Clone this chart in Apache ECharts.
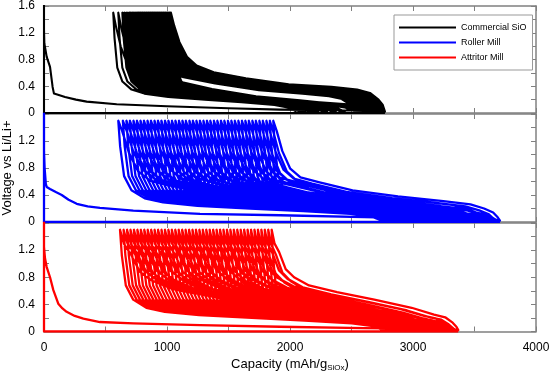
<!DOCTYPE html>
<html>
<head>
<meta charset="utf-8">
<script src="https://cdn.jsdelivr.net/npm/echarts@6/dist/echarts.min.js"></script>
<style>
  html, body { margin: 0; padding: 0; background: #fff; }
  #chart { width: 550px; height: 371px; }
</style>
</head>
<body>
<div id="chart"></div>
<script>
// first lithiation of each material: [capacity, voltage]
var blkFirst = [[0, 2.5], [0, 1.25], [3, 1.04], [22, 0.84], [49, 0.69], [70, 0.39], [81, 0.29], [120, 0.27], [171, 0.24], [260, 0.2], [347, 0.17], [591, 0.13], [1000, 0.1], [1500, 0.07], [1919, 0.05], [2400, 0.04], [2700, 0.03], [2772, 0.02]];
var bluFirst = [[0, 2.5], [0, 1.05], [5, 0.8], [15, 0.56], [22, 0.52], [49, 0.49], [100, 0.44], [144, 0.4], [200, 0.33], [266, 0.27], [355, 0.23], [455, 0.21], [726, 0.17], [1268, 0.12], [1919, 0.1], [2700, 0.07], [3400, 0.05], [3650, 0.03], [3707, 0.02]];
var redFirst = [[0, 2.5], [0, 1.25], [8, 1.08], [22, 0.95], [49, 0.8], [76, 0.61], [116, 0.41], [150, 0.34], [184, 0.29], [250, 0.23], [320, 0.19], [455, 0.14], [726, 0.12], [1268, 0.095], [1919, 0.07], [2600, 0.05], [3200, 0.04], [3368, 0.02]];

// cycle profiles, position as fraction of the loop width
var lithU = [0, 0.007, 0.022, 0.05, 0.1, 0.17, 0.3, 0.5, 0.7, 0.88, 0.96, 1];
var lithV = [1.5, 1.12, 0.68, 0.47, 0.35, 0.29, 0.24, 0.2, 0.16, 0.12, 0.08, 0.02];
var delU = [0, 0.015, 0.04, 0.075, 0.12, 0.2, 0.35, 0.55, 0.75, 0.87, 0.93, 0.97, 0.99, 1];
var delDrop = [0, 0.1, 0.3, 0.5, 0.6, 0.7, 0.8, 0.9, 1, 1, 0.9, 0.7, 0.4, 0];
var blkDelV = [1.5, 1.31, 1.06, 0.84, 0.71, 0.61, 0.52, 0.43, 0.39, 0.35, 0.3, 0.2, 0.12, 0.02];
var bluDelV = [1.5, 1.35, 1.05, 0.79, 0.66, 0.59, 0.47, 0.38, 0.31, 0.26, 0.2, 0.14, 0.07, 0.02];
var redDelV = [1.5, 1.3, 1.17, 0.92, 0.8, 0.68, 0.58, 0.47, 0.35, 0.25, 0.21, 0.13, 0.07, 0.02];

// per cycle: capacity at the 1.5 V turn, capacity at the end of lithiation, voltage drop of delithiation
var blkPeak = [1032, 1024, 1016, 1007, 999, 990, 982, 973, 965, 956, 948, 939, 931, 922, 914, 905, 897, 888, 880, 871, 863, 854, 846, 837, 829, 820, 812, 803, 795, 786, 778, 769, 761, 752, 741, 731, 722, 713, 702, 694, 681, 667, 652, 637, 604, 563];
var blkEnd = [2760, 2753, 2745, 2739, 2731, 2724, 2717, 2709, 2703, 2695, 2688, 2681, 2673, 2667, 2659, 2652, 2645, 2637, 2631, 2623, 2616, 2609, 2601, 2595, 2587, 2580, 2574, 2567, 2561, 2554, 2548, 2541, 2535, 2528, 2445, 2410, 2372, 2338, 2301, 2266, 2230, 2193, 2160, 2124, 2088, 2052];
var blkDrop = [0, 0.02, 0.05, 0.01, 0.04, 0.07, 0.02, 0.05, 0.08, 0.03, 0.06, 0.04, 0.09, 0.02, 0.05, 0.08, 0.03, 0.06, 0.04, 0.09, 0.05, 0.03, 0.08, 0.04, 0.06, 0.1, 0.05, 0.03, 0.08, 0.06, 0.04, 0.1, 0.05, 0.09, 0.2, 0.22, 0.19, 0.23, 0.21, 0.24, 0.2, 0.22, 0.25, 0.21, 0.23, 0.22];

var bluPeak = [1864, 1836, 1808, 1779, 1751, 1722, 1694, 1665, 1637, 1609, 1580, 1551, 1523, 1495, 1466, 1438, 1409, 1381, 1352, 1324, 1296, 1267, 1239, 1210, 1182, 1153, 1125, 1097, 1068, 1040, 1011, 983, 954, 926, 898, 869, 841, 812, 784, 755, 727, 698, 670, 641, 604];
var bluEnd = [3690, 3668, 3646, 3622, 3600, 3579, 3555, 3533, 3511, 3488, 3466, 3445, 3421, 3399, 3378, 3355, 3333, 3312, 3289, 3267, 3246, 3223, 3201, 3180, 3157, 3135, 3114, 3091, 3069, 3048, 3025, 3003, 2982, 2959, 2937, 2916, 2893, 2871, 2850, 2827, 2805, 2790, 2775, 2762, 2750];
var bluDrop = [0, 0.09, 0.03, 0.13, 0.06, 0.11, 0.01, 0.08, 0.14, 0.04, 0.1, 0.02, 0.12, 0.07, 0.13, 0.03, 0.09, 0.05, 0.14, 0.02, 0.11, 0.06, 0.12, 0.01, 0.08, 0.13, 0.04, 0.1, 0.06, 0.14, 0.03, 0.09, 0.12, 0.05, 0.11, 0.02, 0.13, 0.07, 0.1, 0.04, 0.12, 0.06, 0.09, 0.03, 0.08];

var redPeak = [1851, 1823, 1795, 1767, 1739, 1711, 1683, 1655, 1627, 1599, 1571, 1543, 1515, 1487, 1459, 1431, 1403, 1375, 1347, 1319, 1291, 1263, 1235, 1207, 1179, 1151, 1123, 1095, 1067, 1039, 1011, 983, 955, 927, 899, 871, 843, 815, 787, 759, 731, 703, 675, 647, 618];
var redEnd = [3352, 3338, 3325, 3310, 3296, 3283, 3268, 3254, 3241, 3226, 3212, 3199, 3184, 3170, 3157, 3142, 3128, 3115, 3100, 3086, 3073, 3058, 3044, 3031, 3016, 3002, 2989, 2974, 2960, 2947, 2932, 2918, 2905, 2890, 2876, 2863, 2848, 2834, 2821, 2806, 2792, 2784, 2776, 2768, 2760];
var redDrop = [0, 0.1, 0.04, 0.13, 0.07, 0.02, 0.12, 0.05, 0.14, 0.08, 0.03, 0.11, 0.06, 0.13, 0.01, 0.09, 0.12, 0.04, 0.14, 0.07, 0.1, 0.02, 0.12, 0.06, 0.13, 0.03, 0.09, 0.11, 0.05, 0.14, 0.02, 0.08, 0.12, 0.06, 0.1, 0.03, 0.13, 0.07, 0.11, 0.04, 0.12, 0.05, 0.09, 0.02, 0.08];

var names = ['Commercial SiO', 'Roller Mill', 'Attritor Mill'];
var colors = ['#000000', '#0000ff', '#ff0000'];
var widths = [2.1, 2.3, 2.3];

// one continuous trace per material: first lithiation, then delithiation / lithiation loops
function buildTrace(first, peaks, ends, drops, delV) {
  var last = first[first.length - 1][0];
  var pts = [[last, 0], [0, 0]].concat(first);
  var prev = last;
  for (var i = 0; i < peaks.length; i++) {
    var a = peaks[i];
    var w = prev - a;
    for (var k = delU.length - 1; k >= 0; k--) {
      pts.push([a + delU[k] * w, delV[k] - drops[i] * delDrop[k]]);
    }
    w = ends[i] - a;
    for (k = 0; k < lithU.length; k++) {
      pts.push([a + lithU[k] * w, lithV[k]]);
    }
    prev = ends[i];
  }
  return pts;
}

var traces = [
  buildTrace(blkFirst, blkPeak, blkEnd, blkDrop, blkDelV),
  buildTrace(bluFirst, bluPeak, bluEnd, bluDrop, bluDelV),
  buildTrace(redFirst, redPeak, redEnd, redDrop, redDelV)
];

var frame = { color: '#808080', width: 1.5 };
var font = 'Liberation Sans, Arial, sans-serif';
var tops = [6, 114, 223];
var heights = [107, 108, 108.5];

var grids = [], xAxes = [], yAxes = [], series = [];
for (var i = 0; i < 3; i++) {
  grids.push({ left: 44, right: 14, top: tops[i], height: heights[i], outerBoundsMode: 'none', containLabel: false });
  ['bottom', 'top'].forEach(function (pos) {
    xAxes.push({
      type: 'value', gridIndex: i, position: pos, min: 0, max: 4000, interval: 1000,
      axisLine: { show: true, onZero: false, lineStyle: frame },
      axisTick: { show: true, inside: true, length: 5, lineStyle: { color: '#808080' } },
      minorTick: { show: true, splitNumber: 2, length: 5, lineStyle: { color: '#808080' } },
      splitLine: { show: false },
      axisLabel: {
        show: pos === 'bottom' && i === 2, color: '#000', fontFamily: font, fontSize: 12, margin: 10,
        formatter: function (v) { return String(v); }
      },
      name: pos === 'bottom' && i === 2 ? 'Capacity (mAh/g{s|SiOx})' : '',
      nameLocation: 'middle', nameGap: 26,
      nameTextStyle: {
        color: '#000', fontFamily: font, fontSize: 13,
        rich: { s: { fontSize: 8, fontFamily: font, color: '#000', verticalAlign: 'bottom', padding: [6, 0, 0, 0] } }
      }
    });
  });
  ['left', 'right'].forEach(function (pos) {
    yAxes.push({
      type: 'value', gridIndex: i, position: pos, min: 0, max: 1.6, interval: 0.4,
      axisLine: { show: true, onZero: false, lineStyle: pos === 'left' ? { color: '#555', width: 1.5 } : frame },
      axisTick: { show: true, inside: true, length: 5, lineStyle: { color: '#808080' } },
      minorTick: { show: true, splitNumber: 2, length: 5, lineStyle: { color: '#808080' } },
      splitLine: { show: false },
      axisLabel: {
        show: pos === 'left', showMaxLabel: i === 0, color: '#000', fontFamily: font, fontSize: 12, margin: 9,
        formatter: function (v) { return v === 0 ? '0' : v.toFixed(1); }
      },
      name: pos === 'left' && i === 1 ? 'Voltage vs Li/Li+' : '',
      nameLocation: 'middle', nameGap: 30, nameRotate: 90, nameMoveOverlap: false,
      nameTextStyle: { color: '#000', fontFamily: font, fontSize: 13 }
    });
  });
  series.push({
    name: names[i], type: 'line', xAxisIndex: i * 2, yAxisIndex: i * 2,
    data: traces[i], showSymbol: false, symbol: 'none', clip: true,
    color: colors[i],
    lineStyle: { color: colors[i], width: widths[i], join: 'round' }
  });
}

var chart = echarts.init(document.getElementById('chart'));
chart.setOption({
  animation: false,
  backgroundColor: '#fff',
  grid: grids,
  xAxis: xAxes,
  yAxis: yAxes,
  legend: {
    orient: 'vertical', left: 394, top: 15,
    data: names, icon: 'rect', itemWidth: 57, itemHeight: 2, itemGap: 6,
    padding: [8, 6, 8, 5], borderColor: '#999', borderWidth: 1, backgroundColor: '#fff',
    textStyle: { fontFamily: font, fontSize: 9, color: '#000' }
  },
  series: series
});
</script>
</body>
</html>
